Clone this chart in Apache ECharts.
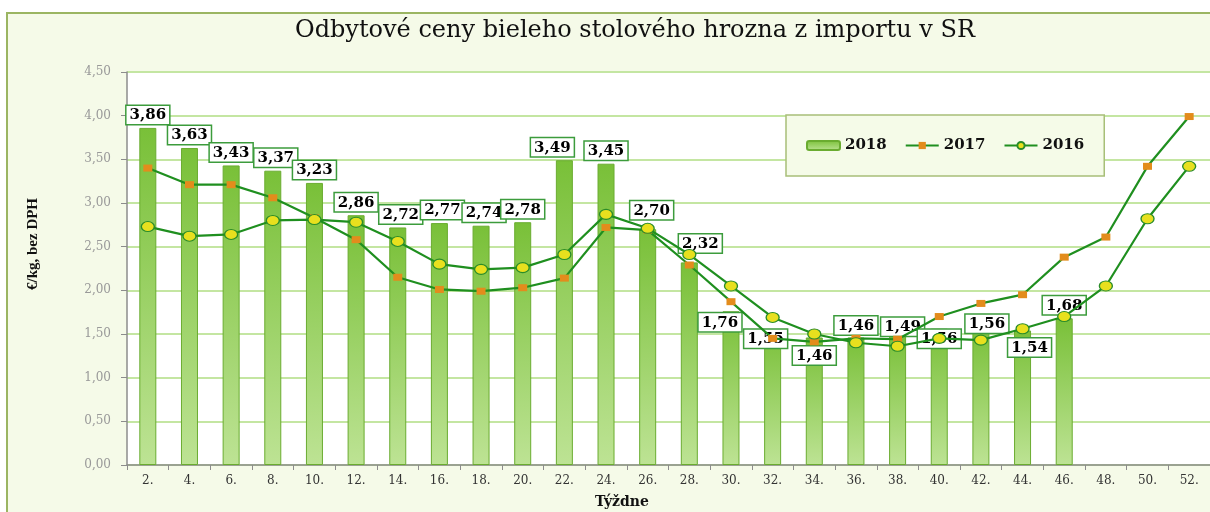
<!DOCTYPE html>
<html>
<head>
<meta charset="utf-8">
<script src="https://cdn.jsdelivr.net/npm/echarts@6/dist/echarts.min.js"></script>
<style>
html,body{margin:0;padding:0;background:#fff;}
#frame{position:absolute;left:6px;top:12px;width:1220px;height:520px;background:#f5fae8;border:2px solid #9bb562;box-sizing:border-box;}
#c{position:absolute;left:0;top:0;width:1210px;height:512px;}
</style>
</head>
<body>
<div id="frame"></div>
<div id="c"></div>
<script>
// ---- data ----
const weeks = ['2.','4.','6.','8.','10.','12.','14.','16.','18.','20.','22.','24.','26.','28.','30.','32.','34.','36.','38.','40.','42.','44.','46.','48.','50.','52.'];
const prices2018 = [3.86,3.63,3.43,3.37,3.23,2.86,2.72,2.77,2.74,2.78,3.49,3.45,2.70,2.32,1.76,1.55,1.46,1.46,1.49,1.56,1.56,1.54,1.68,null,null,null];
const prices2017 = [3.40,3.21,3.21,3.06,2.83,2.58,2.15,2.01,1.99,2.03,2.14,2.72,2.69,2.29,1.87,1.45,1.41,1.45,1.44,1.70,1.85,1.95,2.38,2.61,3.42,3.99];
const prices2016 = [2.73,2.62,2.64,2.80,2.81,2.78,2.56,2.30,2.24,2.26,2.41,2.87,2.71,2.41,2.05,1.69,1.50,1.40,1.36,1.45,1.43,1.56,1.70,2.05,2.82,3.42];
const seriesNames = ['2018','2017','2016'];
const yTickLabels = ['0,00','0,50','1,00','1,50','2,00','2,50','3,00','3,50','4,00','4,50'];
const titleText = 'Odbytové ceny bieleho stolového hrozna z importu v SR';
const yName = '€/kg, bez DPH';
const xName = 'Týždne';

// ---- label placement (style, not data) ----
const labelNudge = {'8.':[3,0],'14.':[3,0],'16.':[3,0],'18.':[3,0],'22.':[-12,0],'26.':[4,-6],'28.':[11,-6],
  '30.':[-11,24],'32.':[-7,22],'34.':[0,31],'36.':[0,1],'38.':[5,5],'40.':[0,23],'42.':[6,8],'44.':[7,30]};

const fmt = v => v.toFixed(2).replace('.', ',');
const barData = prices2018.map((v,i) => v == null ? '-' : {value: v, label: {offset: labelNudge[weeks[i]] || [0,0]}});

const serif = 'DejaVu Serif';
const chart = echarts.init(document.getElementById('c'), null, {renderer:'canvas'});
chart.setOption({
  backgroundColor: 'transparent',
  animation: false,
  graphic: [
    {type:'text', x:635, y:31, style:{text:titleText, font:'normal 24px "DejaVu Serif"', fill:'#111', align:'center', verticalAlign:'middle'}},
    {type:'text', x:33, y:244, rotation:Math.PI/2, style:{text:yName, font:'bold 15px "Liberation Serif"', fill:'#111', align:'center', verticalAlign:'middle'}},
    {type:'text', x:622, y:502, style:{text:xName, font:'bold 14px "DejaVu Serif"', fill:'#111', align:'center', verticalAlign:'middle'}}
  ],
  legend: {
    data: seriesNames,
    left: 786, top: 115,
    padding: [23, 20],
    itemGap: 18,
    itemWidth: 33, itemHeight: 9,
    backgroundColor: '#f5fbe8',
    borderColor: '#a8bf78', borderWidth: 1.5,
    textStyle: {fontFamily: serif, fontWeight: 'bold', fontSize: 15, color: '#111'}
  },
  grid: {left: 127, top: 72, width: 1087, height: 393, show: true, backgroundColor: '#fff', borderWidth: 0},
  xAxis: {
    type: 'category', data: weeks, boundaryGap: true,
    axisLine: {lineStyle: {color: '#8c8c8c', width: 1.5}},
    axisTick: {show: true, length: 5, lineStyle: {color: '#8c8c8c'}},
    axisLabel: {color: '#333', fontFamily: serif, fontSize: 12, margin: 10, interval: 0},
    splitLine: {show: false}
  },
  yAxis: {
    type: 'value', min: 0, max: 4.5, interval: 0.5,
    axisLine: {show: true, lineStyle: {color: '#8c8c8c', width: 1.5}},
    axisTick: {show: true, length: 6, lineStyle: {color: '#8c8c8c'}},
    axisLabel: {color: '#999', fontFamily: serif, fontSize: 12, margin: 16,
      formatter: (v) => yTickLabels[Math.round(v / 0.5)]},
    splitLine: {lineStyle: {color: '#c4e6a2', width: 2}}
  },
  series: [
    {
      name: seriesNames[0], type: 'bar', data: barData, barWidth: 17,
      itemStyle: {
        color: new echarts.graphic.LinearGradient(0,0,0,1,[{offset:0,color:'#79c038'},{offset:1,color:'#bde394'}]),
        borderColor: '#6aac30', borderWidth: 1
      },
      label: {
        show: true, position: 'top', distance: 4,
        formatter: p => fmt(p.value),
        backgroundColor: '#fff', borderColor: '#3c9c3c', borderWidth: 1.5,
        padding: [2, 3, 1, 3],
        fontFamily: serif, fontWeight: 'bold', fontSize: 15, color: '#000'
      }
    },
    {
      name: seriesNames[1], type: 'line', data: prices2017,
      lineStyle: {color: '#1f8f1f', width: 2.2},
      symbol: 'rect', symbolSize: [9, 7],
      itemStyle: {color: '#e38c1c', borderWidth: 0}
    },
    {
      name: seriesNames[2], type: 'line', data: prices2016,
      lineStyle: {color: '#1f8f1f', width: 2.2},
      symbol: 'circle', symbolSize: [13, 10],
      itemStyle: {color: '#e8e01e', borderColor: '#2a8c2a', borderWidth: 1.2}
    }
  ]
});
</script>
</body>
</html>
